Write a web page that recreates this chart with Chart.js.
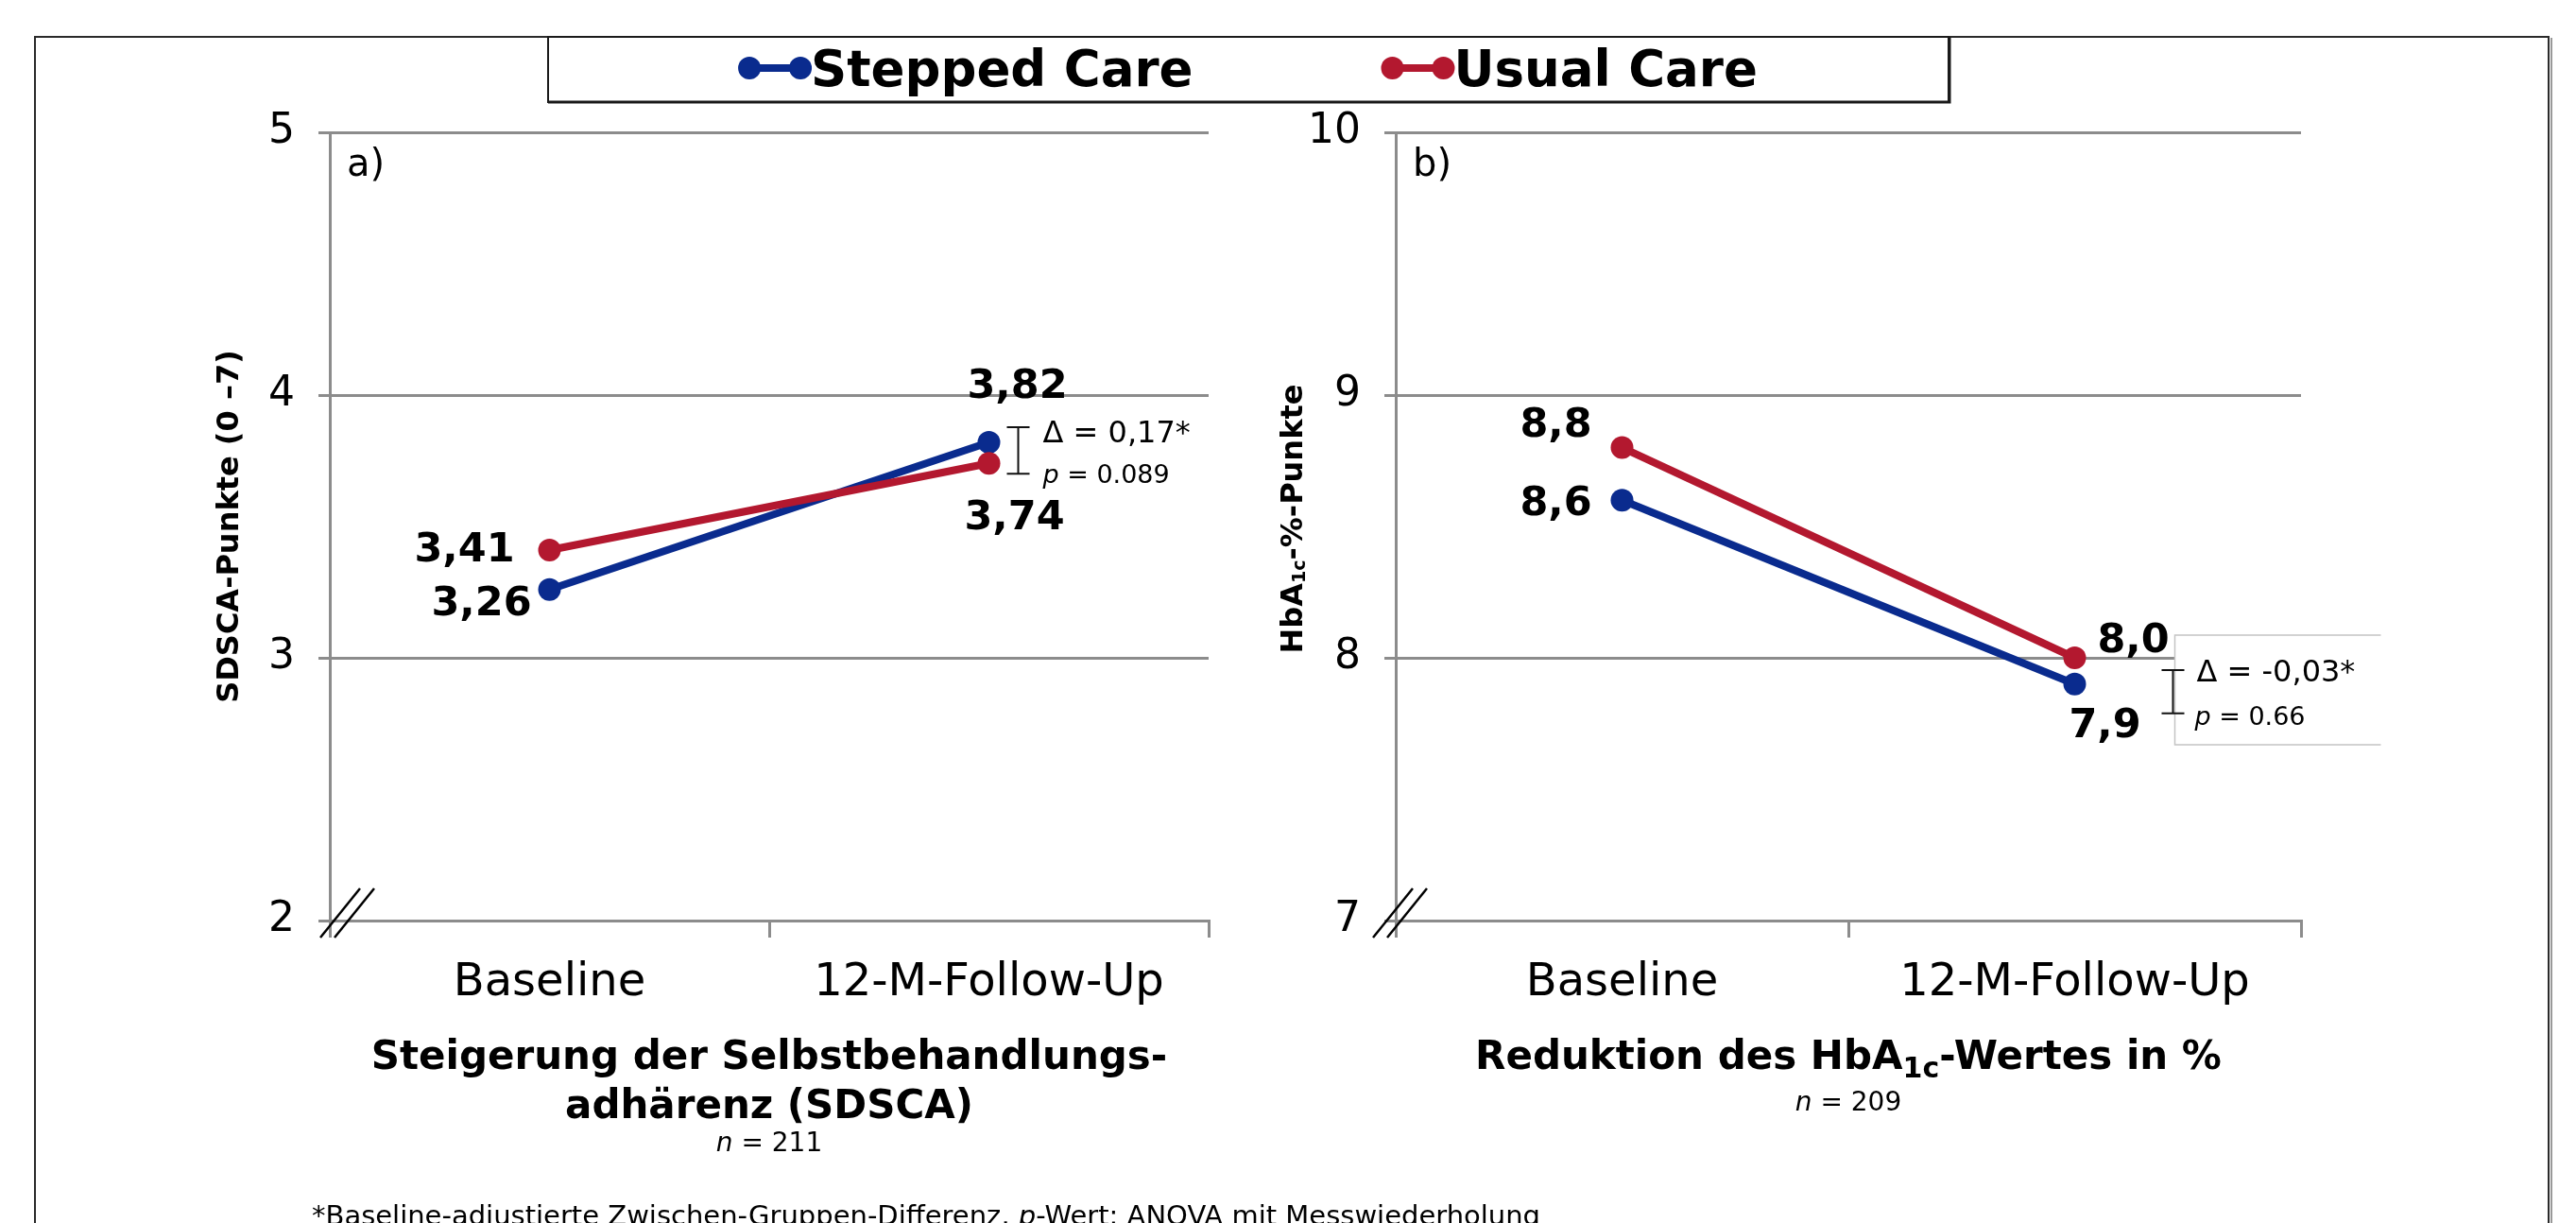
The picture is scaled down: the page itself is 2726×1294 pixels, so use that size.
<!DOCTYPE html>
<html>
<head>
<meta charset="utf-8">
<title>Stepped Care vs. Usual Care</title>
<script src="https://cdn.jsdelivr.net/npm/chart.js@4.4.1/dist/chart.umd.min.js"></script>
<style>
  html, body { margin: 0; padding: 0; background: #fff; }
  #wrap { position: relative; width: 2726px; height: 1294px; overflow: hidden; }
  #wrap canvas { position: absolute; left: 0; top: 0; }
</style>
</head>
<body>
<div id="wrap">
  <canvas id="panelA" width="2726" height="1294"></canvas>
  <canvas id="panelB" width="2726" height="1294"></canvas>
</div>
<script>
// ---- data ----
const categories = ['Baseline', '12-M-Follow-Up'];
const seriesNames = ['Stepped Care', 'Usual Care'];

const sdscaStepped = [3.26, 3.82];
const sdscaUsual = [3.41, 3.74];
const sdscaTicks = [2, 3, 4, 5];
const sdscaDelta = '0,17';
const sdscaP = '0.089';
const sdscaN = 211;

const hba1cStepped = [8.6, 7.9];
const hba1cUsual = [8.8, 8.0];
const hba1cTicks = [7, 8, 9, 10];
const hba1cDelta = '-0,03';
const hba1cP = '0.66';
const hba1cN = 209;

// ---- styling ----
const FONT = "'DejaVu Sans', Verdana, sans-serif";
const BLUE = '#0a2b8e';
const RED = '#b3182f';
const GRID = '#8c8c8c';

Chart.defaults.font.family = FONT;
Chart.defaults.color = '#000';

function font(size, weight, style) {
  return `${style || 'normal'} ${weight || 'normal'} ${size}px ${FONT}`;
}

// draws a run of text pieces (mixed size / style / baseline shift) on one baseline
function drawRich(ctx, parts, x, baseline, align) {
  ctx.save();
  ctx.textBaseline = 'alphabetic';
  ctx.textAlign = 'left';
  ctx.fillStyle = '#000';
  const widths = parts.map(p => { ctx.font = font(p.size, p.weight, p.style); return ctx.measureText(p.text).width; });
  const total = widths.reduce((a, b) => a + b, 0);
  let cx = align === 'center' ? x - total / 2 : x;
  parts.forEach((p, i) => {
    ctx.font = font(p.size, p.weight, p.style);
    ctx.fillText(p.text, cx, baseline + (p.shift || 0));
    cx += widths[i];
  });
  ctx.restore();
  return total;
}
const capMid = size => size * 0.3645;   // baseline offset that centres cap height on a y

function bracket(ctx, x, y1, y2, half) {
  ctx.save();
  ctx.strokeStyle = '#111';
  ctx.lineWidth = 2;
  ctx.beginPath();
  ctx.moveTo(x, y1); ctx.lineTo(x, y2);
  ctx.moveTo(x - half, y1); ctx.lineTo(x + half, y1);
  ctx.moveTo(x - half, y2); ctx.lineTo(x + half, y2);
  ctx.stroke();
  ctx.restore();
}

function axisBreak(ctx, area, shift) {
  ctx.save();
  ctx.strokeStyle = '#000';
  ctx.lineWidth = 2.5;
  [0, 15].forEach(d => {
    ctx.beginPath();
    ctx.moveTo(area.left + shift + d - 10, area.bottom + 18);
    ctx.lineTo(area.left + shift + d + 32, area.bottom - 34);
    ctx.stroke();
  });
  ctx.restore();
}

function panelLetter(ctx, area, letter) {
  ctx.save();
  ctx.font = font(40);
  ctx.fillStyle = '#000';
  ctx.textAlign = 'left';
  ctx.textBaseline = 'middle';
  ctx.fillText(letter, area.left + 18, area.top + 36);
  ctx.restore();
}

// value labels next to each point, text taken from the plotted values
function valueLabels(decimals, offsets) {
  return {
    id: 'valueLabels',
    afterDatasetsDraw(chart) {
      const ctx = chart.ctx;
      ctx.save();
      ctx.font = font(43, 'bold');
      ctx.fillStyle = '#000';
      ctx.textAlign = 'center';
      ctx.textBaseline = 'middle';
      chart.data.datasets.forEach((ds, di) => {
        chart.getDatasetMeta(di).data.forEach((pt, i) => {
          const [dx, dy] = offsets[di][i];
          ctx.fillText(ds.data[i].toFixed(decimals).replace('.', ','), pt.x + dx, pt.y + dy);
        });
      });
      ctx.restore();
    }
  };
}

function panelOptions(tickValues, padLeft, padRight, titleText) {
  return {
    responsive: false,
    animation: false,
    devicePixelRatio: 1,
    events: [],
    layout: { padding: { left: padLeft, right: padRight, top: 140, bottom: 220 } },
    elements: {
      line: { borderWidth: 8, tension: 0 },
      point: { radius: 12, borderWidth: 0, hoverRadius: 12 }
    },
    plugins: { legend: { display: false }, tooltip: { enabled: false } },
    scales: {
      x: {
        type: 'category',
        offset: true,
        afterFit: s => { s.height = 100; },
        grid: { offset: true, drawOnChartArea: false, drawTicks: true, tickLength: 18, color: GRID, lineWidth: 3 },
        border: { display: true, color: GRID, width: 3 },
        ticks: { color: '#000', font: { size: 48 }, padding: 20, maxRotation: 0, autoSkip: false }
      },
      y: {
        min: tickValues[0],
        max: tickValues[tickValues.length - 1],
        afterBuildTicks: s => { s.ticks = tickValues.map(v => ({ value: v })); },
        afterFit: s => { s.width = 140; },
        grid: { color: GRID, lineWidth: 3, tickLength: 12, drawTicks: true },
        border: { display: true, color: GRID, width: 3 },
        ticks: { color: '#000', font: { size: 44 }, padding: 25 },
        title: {
          display: !!titleText,
          text: titleText || '',
          color: '#000',
          font: { size: 32, weight: 'bold' },
          padding: { top: 15, bottom: 0 }
        }
      }
    }
  };
}

function seriesDatasets(stepped, usual) {
  return [
    { label: seriesNames[0], data: stepped, borderColor: BLUE, backgroundColor: BLUE, pointBackgroundColor: BLUE, order: 1, clip: false },
    { label: seriesNames[1], data: usual, borderColor: RED, backgroundColor: RED, pointBackgroundColor: RED, order: 0, clip: false }
  ];
}

// ---- page frame, shared legend, footnote (drawn with panel a) ----
const pageDecor = {
  id: 'pageDecor',
  beforeDraw(chart) {
    const ctx = chart.ctx;
    ctx.save();
    ctx.fillStyle = '#fff';
    ctx.fillRect(0, 0, chart.width, chart.height);
    ctx.strokeStyle = '#999';
    ctx.lineWidth = 2;
    ctx.beginPath();
    ctx.moveTo(2700, 40); ctx.lineTo(2700, 1300);
    ctx.stroke();
    ctx.strokeStyle = '#2a2a2a';
    ctx.beginPath();
    ctx.moveTo(37, 1300); ctx.lineTo(37, 39); ctx.lineTo(2697, 39); ctx.lineTo(2697, 1300);
    ctx.stroke();
    ctx.restore();
  },
  afterDraw(chart) {
    const ctx = chart.ctx;
    // legend box
    ctx.save();
    ctx.fillStyle = '#fff';
    ctx.fillRect(580, 39, 1482, 69);
    ctx.strokeStyle = '#1a1a1a';
    ctx.lineWidth = 2;
    ctx.strokeRect(580, 39, 1482, 69);
    ctx.lineWidth = 3;
    ctx.beginPath();
    ctx.moveTo(580, 108); ctx.lineTo(2063, 108); ctx.lineTo(2063, 39);
    ctx.stroke();

    ctx.font = font(53, 'bold');
    const markerW = 78, gap = 198, r = 12;
    const items = chart.data.datasets.map(ds => ({ label: ds.label, color: ds.borderColor, w: ctx.measureText(ds.label).width }));
    const total = items.reduce((a, it) => a + markerW + it.w, 0) + gap * (items.length - 1);
    let x = 1321 - total / 2;
    const cy = 72;
    items.forEach(it => {
      ctx.strokeStyle = it.color;
      ctx.fillStyle = it.color;
      ctx.lineWidth = 8;
      ctx.beginPath();
      ctx.moveTo(x + r, cy); ctx.lineTo(x + markerW - r, cy);
      ctx.stroke();
      [x + r, x + markerW - r].forEach(px => { ctx.beginPath(); ctx.arc(px, cy, r, 0, Math.PI * 2); ctx.fill(); });
      ctx.fillStyle = '#000';
      ctx.textAlign = 'left';
      ctx.textBaseline = 'alphabetic';
      ctx.fillText(it.label, x + markerW - 1, cy + capMid(53));
      x += markerW + it.w + gap;
    });
    ctx.restore();

    // footnote
    drawRich(ctx, [
      { text: '*Baseline-adjustierte Zwischen-Gruppen-Differenz, ', size: 29 },
      { text: 'p', size: 29, style: 'italic' },
      { text: '-Wert: ANOVA mit Messwiederholung', size: 29 }
    ], 330, 1296, 'left');
  }
};

// ---- panel a: SDSCA ----
const panelADecor = {
  id: 'panelADecor',
  afterDatasetsDraw(chart) {
    const ctx = chart.ctx;
    const area = chart.chartArea;
    const xs = chart.scales.x, ys = chart.scales.y;
    panelLetter(ctx, area, 'a)');
    axisBreak(ctx, area, 0);

    const bx = xs.getPixelForValue(1) + 31;
    const top = ys.getPixelForValue(sdscaStepped[1]) - 16;
    const bot = ys.getPixelForValue(sdscaUsual[1]) + 11;
    bracket(ctx, bx, top, bot, 12);
    drawRich(ctx, [{ text: '\u0394 = ' + sdscaDelta + '*', size: 32 }], bx + 26, top + 4 + capMid(32), 'left');
    drawRich(ctx, [{ text: 'p', size: 27, style: 'italic' }, { text: ' = ' + sdscaP, size: 27 }], bx + 26, bot + capMid(27), 'left');
  },
  afterDraw(chart) {
    const ctx = chart.ctx;
    const area = chart.chartArea;
    const cx = (area.left + area.right) / 2;
    drawRich(ctx, [{ text: 'Steigerung der Selbstbehandlungs-', size: 42, weight: 'bold' }], cx, 1116 + capMid(42), 'center');
    drawRich(ctx, [{ text: 'adh\u00e4renz (SDSCA)', size: 42, weight: 'bold' }], cx, 1168 + capMid(42), 'center');
    drawRich(ctx, [{ text: 'n', size: 28, style: 'italic' }, { text: ' = ' + sdscaN, size: 28 }], cx, 1208 + capMid(28), 'center');
  }
};

new Chart(document.getElementById('panelA'), {
  type: 'line',
  data: { labels: categories, datasets: seriesDatasets(sdscaStepped, sdscaUsual) },
  options: panelOptions(sdscaTicks, 209, 1447, 'SDSCA-Punkte (0 \u20137)'),
  plugins: [
    pageDecor,
    panelADecor,
    valueLabels(2, [
      [[-72, 16], [30, -58]],
      [[-90, 1], [27, 59]]
    ])
  ]
});

// ---- panel b: HbA1c ----
const panelBDecor = {
  id: 'panelBDecor',
  afterDatasetsDraw(chart) {
    const ctx = chart.ctx;
    const area = chart.chartArea;
    const xs = chart.scales.x, ys = chart.scales.y;
    panelLetter(ctx, area, 'b)');
    axisBreak(ctx, area, -14);

    const fx = xs.getPixelForValue(1);
    const yU = ys.getPixelForValue(hba1cUsual[1]);
    const yS = ys.getPixelForValue(hba1cStepped[1]);
    // white note box
    ctx.save();
    ctx.fillStyle = '#fff';
    ctx.fillRect(fx + 106, yU - 24, 218, 116);
    ctx.strokeStyle = '#c4c4c4';
    ctx.lineWidth = 1.5;
    ctx.beginPath();
    ctx.moveTo(fx + 324, yU - 24); ctx.lineTo(fx + 106, yU - 24); ctx.lineTo(fx + 106, yU + 92); ctx.lineTo(fx + 324, yU + 92);
    ctx.stroke();
    ctx.restore();

    const bx = fx + 104;
    const top = yU + 13;
    const bot = yS + 31;
    bracket(ctx, bx, top, bot, 12);
    drawRich(ctx, [{ text: '\u0394 = ' + hba1cDelta + '*', size: 32 }], bx + 25, top + capMid(32), 'left');
    drawRich(ctx, [{ text: 'p', size: 27, style: 'italic' }, { text: ' = ' + hba1cP, size: 27 }], bx + 23, bot + 2 + capMid(27), 'left');
  },
  afterDraw(chart) {
    const ctx = chart.ctx;
    const area = chart.chartArea;
    const cx = (area.left + area.right) / 2;
    // rotated axis title with subscript
    ctx.save();
    ctx.translate(1366, 549);
    ctx.rotate(-Math.PI / 2);
    drawRich(ctx, [
      { text: 'HbA', size: 32, weight: 'bold' },
      { text: '1c', size: 19, weight: 'bold', shift: 3 },
      { text: '-%-Punkte', size: 32, weight: 'bold' }
    ], 0, capMid(32), 'center');
    ctx.restore();

    drawRich(ctx, [
      { text: 'Reduktion des HbA', size: 42, weight: 'bold' },
      { text: '1c', size: 30, weight: 'bold', shift: 9 },
      { text: '-Wertes in %', size: 42, weight: 'bold' }
    ], cx, 1116 + capMid(42), 'center');
    drawRich(ctx, [{ text: 'n', size: 28, style: 'italic' }, { text: ' = ' + hba1cN, size: 28 }], cx, 1165 + capMid(28), 'center');
  }
};

new Chart(document.getElementById('panelB'), {
  type: 'line',
  data: { labels: categories, datasets: seriesDatasets(hba1cStepped, hba1cUsual) },
  options: panelOptions(hba1cTicks, 1337, 291, ''),
  plugins: [
    panelBDecor,
    valueLabels(1, [
      [[-70, 5], [32, 45]],
      [[-70, -23], [62, -17]]
    ])
  ]
});
</script>
</body>
</html>
